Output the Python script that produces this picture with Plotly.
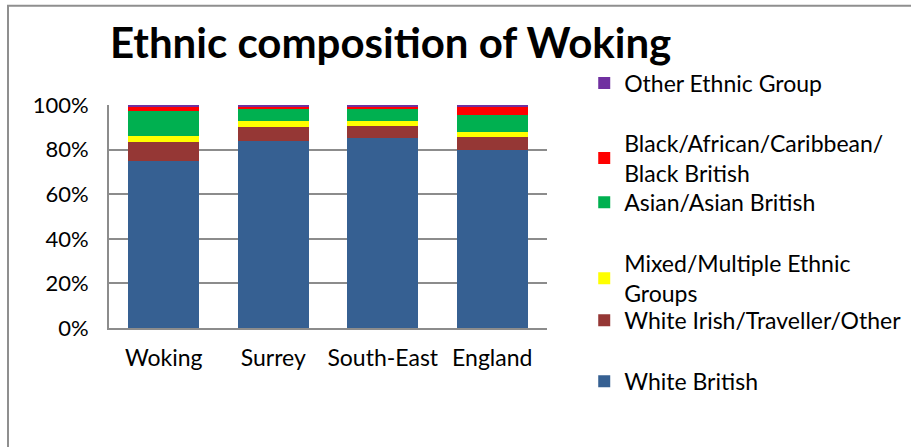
import plotly.graph_objects as go

# Share of population by ethnic group (%), 2011 census
areas = ["Woking", "Surrey", "South-East", "England"]
white_british = [74.7, 83.7, 85.3, 79.9]
white_other = [8.8, 6.6, 5.1, 5.7]
mixed = [2.4, 2.4, 2.4, 2.3]
asian = [11.4, 5.5, 5.3, 7.6]
black = [1.7, 0.9, 1.3, 3.5]
other = [1.0, 0.9, 0.6, 1.0]

series = [
    ("White British", white_british, "#366092"),
    ("White Irish/Traveller/Other", white_other, "#953735"),
    ("Mixed/Multiple Ethnic<br>Groups", mixed, "#FFFF00"),
    ("Asian/Asian British", asian, "#00B050"),
    ("Black/African/Caribbean/<br>Black British", black, "#FF0000"),
    ("Other Ethnic Group", other, "#7030A0"),
]

# vertical centre of each legend entry (paper units)
legend_y = [-0.239, 0.035, 0.223, 0.564, 0.762, 1.098]

FONT = "Lato"
fig = go.Figure()
layout_legends = {}
for i, ((name, vals, col), ly) in enumerate(zip(series, legend_y)):
    key = "legend" if i == 0 else f"legend{i + 1}"
    fig.add_trace(go.Bar(
        x=areas, y=vals, name=name, marker=dict(color=col, line=dict(width=0)),
        legend=key, showlegend=True,
    ))
    layout_legends[key] = dict(
        x=1.085, xanchor="left", y=ly, yanchor="middle",
        font=dict(family=FONT, size=23, color="#000000"),
        bgcolor="rgba(0,0,0,0)", borderwidth=0, itemclick=False,
        visible=True,
    )

fig.update_layout(
    barmode="stack",
    bargap=0.355,
    showlegend=True,
    width=911, height=447,
    margin=dict(l=109, r=364, t=105, b=119, autoexpand=False),
    paper_bgcolor="white", plot_bgcolor="white",
    font=dict(family=FONT, size=22, color="#000000"),
    title=dict(
        text="<b>Ethnic composition of Woking</b>",
        x=110 / 911, xanchor="left", y=1 - 43 / 447, yanchor="middle",
        font=dict(family=FONT, size=42, color="#000000"),
    ),
    xaxis=dict(
        showgrid=False, showline=True, linecolor="#8c8c8c", linewidth=2,
        ticks="", tickfont=dict(family=FONT, size=23), ticklabelstandoff=8,
    ),
    yaxis=dict(
        range=[0, 100], tickvals=[0, 20, 40, 60, 80, 100],
        ticktext=["0%", "20%", "40%", "60%", "80%", "100%"],
        showgrid=True, gridcolor="#8c8c8c", gridwidth=2,
        showline=True, linecolor="#8c8c8c", linewidth=2,
        zeroline=False, ticks="", tickfont=dict(family=FONT, size=22),
        ticklabelstandoff=14,
    ),
    shapes=[dict(
        type="rect", xref="paper", yref="paper",
        x0=(8 - 109) / 438, x1=1.9, y0=-1.0, y1=(327.7 - 6) / 222.7,
        line=dict(color="#8f8f8f", width=2), fillcolor="rgba(0,0,0,0)", layer="below",
    )],
    **layout_legends,
)

fig.write_html("out.html")
